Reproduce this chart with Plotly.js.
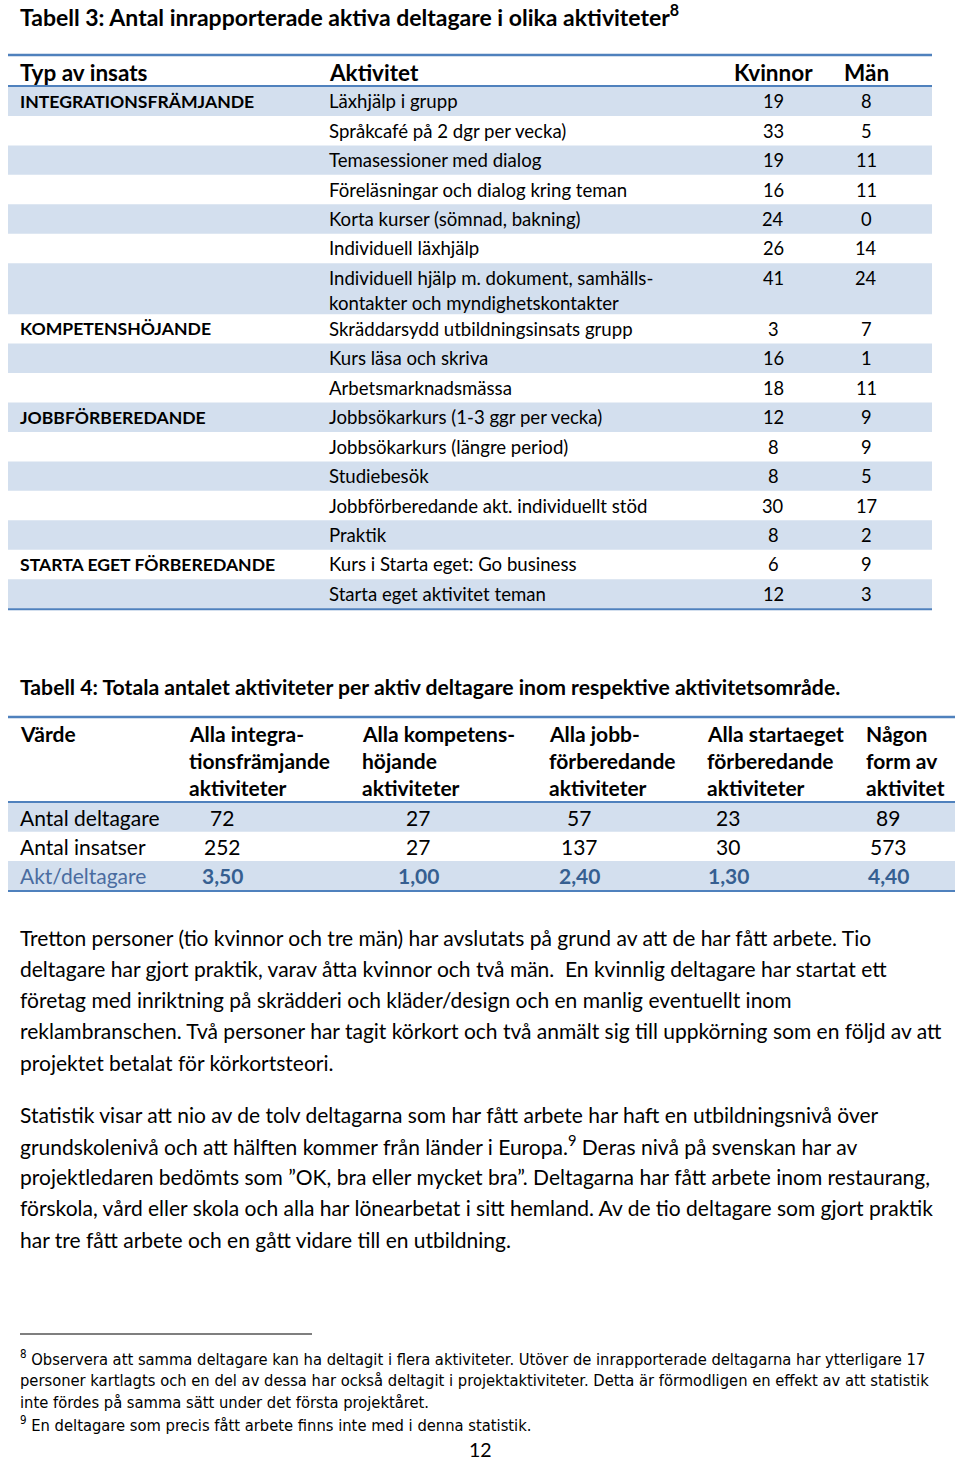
<!DOCTYPE html>
<html>
<head>
<meta charset="utf-8">
<script src="https://cdn.plot.ly/plotly-3.0.1.min.js"></script>
<style>html,body{margin:0;padding:0;background:#fff;}#chart{width:960px;height:1462px;}</style>
</head>
<body>
<div id="chart"></div>
<script>
// ---------- DATA ----------
const title3 = "Tabell 3: Antal inrapporterade aktiva deltagare i olika aktiviteter<sup>8</sup>";
const headers3 = ["Typ av insats", "Aktivitet", "Kvinnor", "Män"];
const insatsTyp = ["INTEGRATIONSFRÄMJANDE", "", "", "", "", "", "",
  "KOMPETENSHÖJANDE", "", "",
  "JOBBFÖRBEREDANDE", "", "", "", "",
  "STARTA EGET FÖRBEREDANDE", ""];
const aktiviteter = [
  "Läxhjälp i grupp",
  "Språkcafé på 2 dgr per vecka)",
  "Temasessioner med dialog",
  "Föreläsningar och dialog kring teman",
  "Korta kurser (sömnad, bakning)",
  "Individuell läxhjälp",
  "Individuell hjälp m. dokument, samhälls-<br>kontakter och myndighetskontakter",
  "Skräddarsydd utbildningsinsats grupp",
  "Kurs läsa och skriva",
  "Arbetsmarknadsmässa",
  "Jobbsökarkurs (1-3 ggr per vecka)",
  "Jobbsökarkurs (längre period)",
  "Studiebesök",
  "Jobbförberedande akt. individuellt stöd",
  "Praktik",
  "Kurs i Starta eget: Go business",
  "Starta eget aktivitet teman"];
const kvinnor = [19, 33, 19, 16, 24, 26, 41, 3, 16, 18, 12, 8, 8, 30, 8, 6, 12];
const man = [8, 5, 11, 11, 0, 14, 24, 7, 1, 11, 9, 9, 5, 17, 2, 9, 3];

const title4 = "Tabell 4: Totala antalet aktiviteter per aktiv deltagare inom respektive aktivitetsområde.";
const headers4 = ["Värde",
  "Alla integra-<br>tionsfrämjande<br>aktiviteter",
  "Alla kompetens-<br>höjande<br>aktiviteter",
  "Alla jobb-<br>förberedande<br>aktiviteter",
  "Alla startaeget<br>förberedande<br>aktiviteter",
  "Någon<br>form av<br>aktivitet"];
const rowLabels4 = ["Antal deltagare", "Antal insatser", "Akt/deltagare"];
const antalDeltagare = [72, 27, 57, 23, 89];
const antalInsatser = [252, 27, 137, 30, 573];
const aktPerDeltagare = ["3,50", "1,00", "2,40", "1,30", "4,40"];

const paragraph1 = [
  "Tretton personer (tio kvinnor och tre män) har avslutats på grund av att de har fått arbete. Tio",
  "deltagare har gjort praktik, varav åtta kvinnor och två män.  En kvinnlig deltagare har startat ett",
  "företag med inriktning på skrädderi och kläder/design och en manlig eventuellt inom",
  "reklambranschen. Två personer har tagit körkort och två anmält sig till uppkörning som en följd av att",
  "projektet betalat för körkortsteori."];
const paragraph2 = [
  "Statistik visar att nio av de tolv deltagarna som har fått arbete har haft en utbildningsnivå över",
  "grundskolenivå och att hälften kommer från länder i Europa.<sup>9</sup> Deras nivå på svenskan har av",
  "projektledaren bedömts som ”OK, bra eller mycket bra”. Deltagarna har fått arbete inom restaurang,",
  "förskola, vård eller skola och alla har lönearbetat i sitt hemland. Av de tio deltagare som gjort praktik",
  "har tre fått arbete och en gått vidare till en utbildning."];
const footnotes = [
  "<sup>8</sup> Observera att samma deltagare kan ha deltagit i flera aktiviteter. Utöver de inrapporterade deltagarna har ytterligare 17",
  "personer kartlagts och en del av dessa har också deltagit i projektaktiviteter. Detta är förmodligen en effekt av att statistik",
  "inte fördes på samma sätt under det första projektåret.",
  "<sup>9</sup> En deltagare som precis fått arbete finns inte med i denna statistik."];
const pageNumber = "12";

// ---------- STYLE / LAYOUT ----------
const FONT = "Lato, Carlito, 'Open Sans', sans-serif";
const NARROW = "'Liberation Sans Narrow', 'DejaVu Sans Condensed', Lato, sans-serif";
const BLUE = "#4f81bd", SHADE = "#d3dfee", DARKBLUE = "#365f91", MIDBLUE = "#4a6ca0", TXT = "#000000";

const shapes = [];
const ann = [];
function txt(x, y, text, size, opts) {
  opts = opts || {};
  ann.push({x: x, y: y, xref: "x", yref: "y", text: text, showarrow: false,
    xanchor: opts.anchor || "left", yanchor: opts.yanchor || "middle", borderpad: 0,
    font: {family: opts.family || FONT, size: size, color: opts.color || TXT,
           weight: opts.bold ? "bold" : "normal"}});
}
function rect(x0, y0, x1, y1, color) {
  shapes.push({type: "rect", xref: "x", yref: "y", x0: x0, x1: x1, y0: y0, y1: y1,
    fillcolor: color, line: {width: 0}, layer: "below"});
}
function hline(x0, x1, y, color, w) {
  shapes.push({type: "line", xref: "x", yref: "y", x0: x0, x1: x1, y0: y, y1: y,
    line: {color: color, width: w}});
}

const LX = 19; // left text margin

// Table 3
txt(LX, 15, title3, 23, {bold: true});
const t3x0 = 8, t3x1 = 932;
const t3cols = [LX, 328, 773, 866];
hline(t3x0, t3x1, 55, BLUE, 2.5);
txt(t3cols[0], 72, headers3[0], 22.5, {bold: true});
txt(t3cols[1], 72, headers3[1], 22.5, {bold: true});
txt(t3cols[2], 72, headers3[2], 22.5, {bold: true, anchor: "center"});
txt(t3cols[3], 72, headers3[3], 22.5, {bold: true, anchor: "center"});
hline(t3x0, t3x1, 86, BLUE, 2);
const rowH = 29.45, lineH = 25;
let yTop = 86.5;
aktiviteter.forEach(function (a, i) {
  const lines = a.split("<br>");
  const h = rowH + (lines.length - 1) * (lineH - 3.5);
  if (i % 2 === 0) rect(t3x0, yTop, t3x1, yTop + h, SHADE);
  const yc = yTop + rowH / 2;
  if (insatsTyp[i]) txt(t3cols[0], yc, insatsTyp[i], 17.6, {bold: true});
  lines.forEach(function (l, k) { txt(t3cols[1], yc + k * lineH, l, 18.6); });
  txt(t3cols[2], yc, String(kvinnor[i]), 18.3, {anchor: "center"});
  txt(t3cols[3], yc, String(man[i]), 18.3, {anchor: "center"});
  yTop += h;
});
hline(t3x0, t3x1, yTop + 0.5, BLUE, 2);

// Table 4
txt(LX, 687, title4, 21.2, {bold: true});
const t4x0 = 8, t4x1 = 955;
const t4cols = [LX, 188, 361, 548, 706, 865];
const t4centers = [222, 418, 579, 728, 888];
hline(t4x0, t4x1, 717, BLUE, 2.5);
headers4.forEach(function (h, j) {
  h.split("<br>").forEach(function (l, k) {
    txt(t4cols[j], 733 + k * 27, l, 21, {bold: true});
  });
});
hline(t4x0, t4x1, 802, BLUE, 2);
const rows4 = [antalDeltagare, antalInsatser, aktPerDeltagare];
const r4H = 29.3;
rows4.forEach(function (vals, i) {
  const y0 = 802.5 + i * r4H;
  if (i % 2 === 0) rect(t4x0, y0, t4x1, y0 + r4H, SHADE);
  const yc = y0 + r4H / 2;
  const isLast = i === rows4.length - 1;
  txt(t4cols[0], yc, rowLabels4[i], 21, {color: isLast ? MIDBLUE : TXT});
  vals.forEach(function (v, j) {
    txt(t4centers[j], yc, String(v), 21, {anchor: "center", bold: isLast, color: isLast ? DARKBLUE : TXT});
  });
});
hline(t4x0, t4x1, 802.5 + 3 * r4H + 0.5, BLUE, 2);

// Paragraphs
const pLine = 31.3;
paragraph1.forEach(function (l, k) { txt(LX, 937 + k * pLine, l, 21); });
paragraph2.forEach(function (l, k) { txt(LX, 1114 + k * pLine, l, 21); });

// Footnotes
hline(20, 312, 1334, "#000000", 1.2);
footnotes.forEach(function (l, k) { txt(LX, 1358 + k * 22, l, 16.4, {family: NARROW}); });
txt(480, 1462, pageNumber, 19.5, {anchor: "center", yanchor: "bottom"});

const layout = {
  width: 960, height: 1462,
  margin: {l: 0, r: 0, t: 0, b: 0},
  paper_bgcolor: "#ffffff", plot_bgcolor: "#ffffff",
  xaxis: {range: [0, 960], visible: false, fixedrange: true},
  yaxis: {range: [1462, 0], visible: false, fixedrange: true},
  showlegend: false,
  shapes: shapes,
  annotations: ann
};
Plotly.newPlot("chart", [{x: [], y: [], type: "scatter", mode: "markers", hoverinfo: "skip"}], layout,
  {staticPlot: true, displayModeBar: false});
</script>
</body>
</html>
